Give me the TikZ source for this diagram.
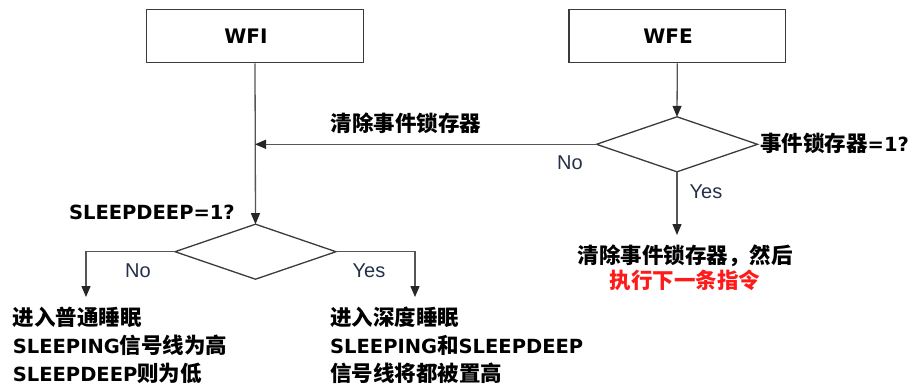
\documentclass[tikz,border=0pt]{standalone}
\usepackage{fontspec}
\setmainfont{Noto Sans CJK SC}
\newfontfamily\latf{DejaVu Sans}
\newfontfamily\romf{Liberation Sans}
\usetikzlibrary{arrows.meta,shapes.geometric}
\definecolor{lc}{HTML}{555555}
\definecolor{ec}{HTML}{3A3A3A}
\definecolor{ac}{HTML}{262626}
\definecolor{yn}{HTML}{22304A}
\definecolor{rd}{HTML}{FF1A1A}
\newcommand\latw[1]{{\latf\bfseries\fontsize{19.5}{28}\selectfont #1}}
\begin{document}
\begin{tikzpicture}[x=1pt,y=-1pt,
  line/.style={draw=lc, line width=1.3pt},
  arr/.style={line, -{Triangle[length=11pt,width=9pt,color=ac]}},
  boxst/.style={rectangle, draw=ec, line width=1.5pt, minimum width=216.7pt, minimum height=53.4pt, inner sep=0pt},
  boxtxt/.style={font=\latf\bfseries\fontsize{20}{24}\selectfont, inner sep=0pt},
  dia/.style={diamond, draw=ec, line width=1.3pt, minimum width=161pt, minimum height=55pt, inner sep=0pt, outer sep=0pt},
  cn/.style={font=\bfseries\fontsize{21.5}{28}\selectfont, inner sep=0pt},
  yno/.style={font=\romf\fontsize{20}{24}\selectfont, text=yn, inner sep=0pt, anchor=base}]
\useasboundingbox (0,0) rectangle (911,388);
% boxes
\node[boxst] (wfi) at (255,36) {};
\node[boxtxt] (wfit) at (246,36) {WFI};
\node[boxst] (wfe) at (677.3,36) {};
\node[boxtxt] (wfet) at (668,36) {WFE};
% diamonds
\node[dia] (d1) at (255.5,251.7) {};
\node[dia] (d2) at (677,144.3) {};
% labels
\node[cn, anchor=east] (q1) at (235,212) {\latw{SLEEPDEEP=1?}};
\node[cn, anchor=west] (q2) at (760,143) {事件锁存器\latw{=1?}};
\node[cn] (clr) at (406,123.3) {清除事件锁存器};
\node[yno] (no1) at (138,277) {No};
\node[yno] (yes1) at (369,277) {Yes};
\node[yno] (no2) at (570,169.3) {No};
\node[yno] (yes2) at (706,198.3) {Yes};
% result texts
\node[cn, anchor=west, align=left] (r1) at (12.7,345) {进入普通睡眠\\\latw{SLEEPING}信号线为高\\\latw{SLEEPDEEP}则为低};
\node[cn, anchor=west, align=left] (r2) at (330,345) {进入深度睡眠\\\latw{SLEEPING}和\latw{SLEEPDEEP}\\信号线将都被置高};
\node[cn, align=center, font=\bfseries\fontsize{21.5}{25}\selectfont] (r3) at (685,267.5) {清除事件锁存器，然后\\\textcolor{rd}{执行下一条指令}};
% connectors
\coordinate (j1) at (wfi.south |- d2.west);
\coordinate (n1) at (86,297);
\coordinate (y1) at (415,297);
\coordinate (y2) at (677,235);
\draw[arr] (wfi.south) -- (d1.north);
\draw[arr] (wfe.south) -- (d2.north);
\draw[arr] (d2.west) -- (j1);
\draw[arr] (d1.west) -| (n1);
\draw[arr] (d1.east) -| (y1);
\draw[arr] (d2.south) -- (y2);
\end{tikzpicture}
\end{document}
